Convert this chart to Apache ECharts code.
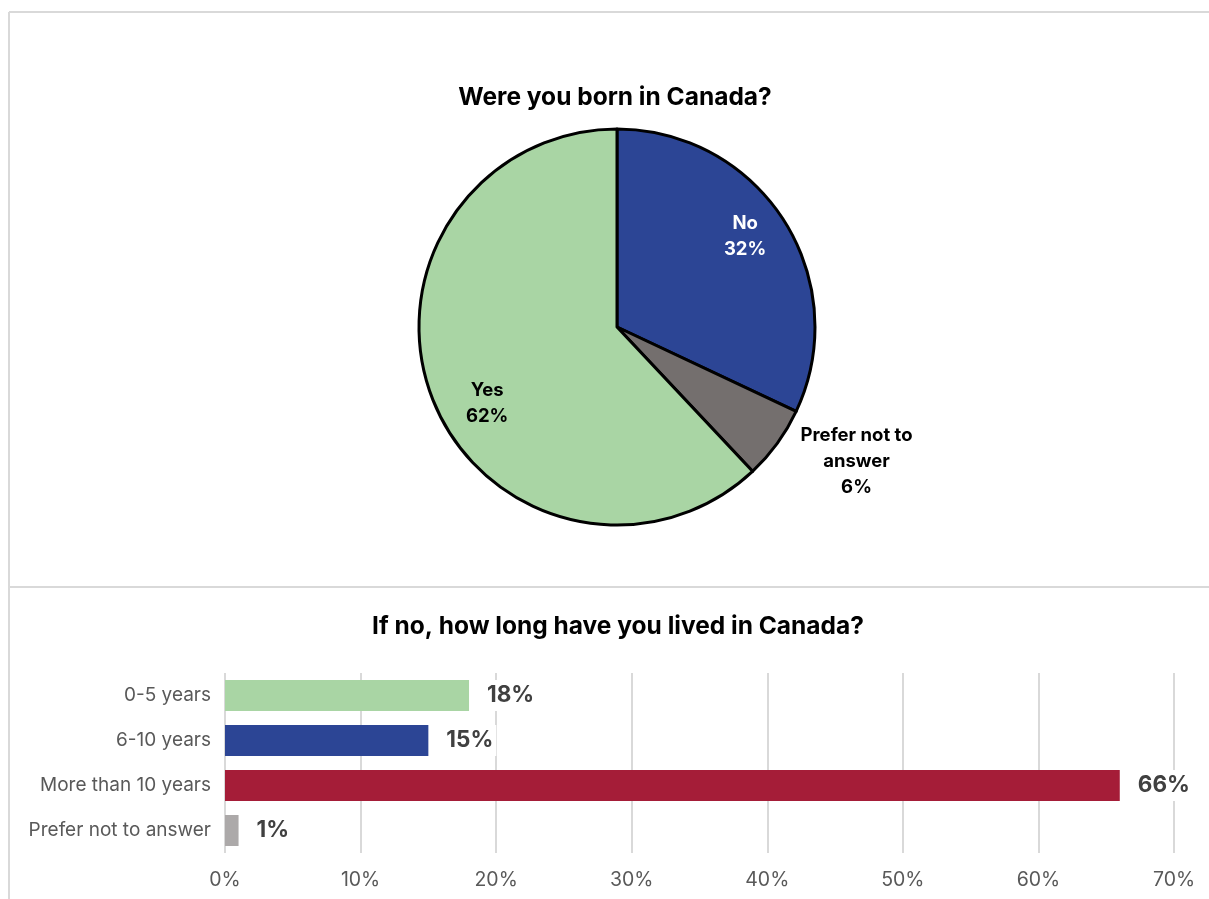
<!DOCTYPE html>
<html>
<head>
<meta charset="utf-8">
<script src="https://cdn.jsdelivr.net/npm/echarts@6/dist/echarts.min.js"></script>
<style>
  html, body { margin: 0; padding: 0; background: #fff; }
  #chart { width: 1209px; height: 899px; }
</style>
</head>
<body>
<div id="chart"></div>
<script>
// Pie: "Were you born in Canada?"
const pieCategories = ['No', 'Prefer not to answer', 'Yes'];
const pieLabels = ['No', 'Prefer not to\nanswer', 'Yes'];
const pieValues = [32, 6, 62];
const pieColors = ['#2c4595', '#746f6e', '#a9d5a4'];

// Bars: "If no, how long have you lived in Canada?"
const barCategories = ['0-5 years', '6-10 years', 'More than 10 years', 'Prefer not to answer'];
const barValues = [18, 15, 66, 1];
const barColors = ['#a9d5a4', '#2c4595', '#a51d38', '#aca9a9'];
const axisTicks = [0, 10, 20, 30, 40, 50, 60, 70];

// label offsets from the default inside position of each slice
const pieLabelShift = [[42, -36], [157, 74], [-35, 39]];
const pieLabelColors = ['#ffffff', '#000000', '#000000'];

const FONT = 'Inter, "Noto Sans", sans-serif';
const chart = echarts.init(document.getElementById('chart'), null, { renderer: 'canvas' });

chart.setOption({
  backgroundColor: '#ffffff',
  animation: false,
  graphic: [
    { type: 'line', shape: { x1: 9, y1: 12, x2: 1209, y2: 12 }, style: { stroke: '#d9d9d9', lineWidth: 2 } },
    { type: 'line', shape: { x1: 9, y1: 12, x2: 9, y2: 899 }, style: { stroke: '#d9d9d9', lineWidth: 2 } },
    { type: 'line', shape: { x1: 9, y1: 587, x2: 1209, y2: 587 }, style: { stroke: '#d9d9d9', lineWidth: 2 } }
  ],
  title: [
    {
      text: 'Were you born in Canada?',
      left: 610, top: 80, textAlign: 'center',
      textStyle: { fontFamily: FONT, fontWeight: 'bold', fontSize: 24.5, lineHeight: 26, color: '#000' }
    },
    {
      text: 'If no, how long have you lived in Canada?',
      left: 613, top: 609, textAlign: 'center',
      textStyle: { fontFamily: FONT, fontWeight: 'bold', fontSize: 24.5, lineHeight: 26, color: '#000' }
    }
  ],
  grid: { left: 225, right: 35, top: 673, height: 180, containLabel: false },
  xAxis: {
    type: 'value', min: axisTicks[0], max: axisTicks[axisTicks.length - 1], interval: 10,
    axisLine: { show: false }, axisTick: { show: false },
    splitLine: { show: true, lineStyle: { color: '#d9d9d9', width: 2 } },
    axisLabel: { formatter: '{value}%', color: '#595959', fontFamily: FONT, fontSize: 19.5, margin: 17 }
  },
  yAxis: {
    type: 'category', data: barCategories, inverse: true,
    axisLine: { show: false }, axisTick: { show: false },
    axisLabel: { color: '#595959', fontFamily: FONT, fontSize: 19, margin: 14 }
  },
  series: [
    {
      type: 'pie',
      center: [617, 327], radius: 198,
      startAngle: 90, clockwise: true,
      data: pieValues.map((v, i) => ({
        name: pieCategories[i], value: v,
        itemStyle: { color: pieColors[i] },
        label: { color: pieLabelColors[i] }
      })),
      itemStyle: { borderColor: '#000', borderWidth: 3 },
      label: {
        show: true, position: 'inside',
        formatter: (p) => pieLabels[p.dataIndex] + '\n' + p.value + '%',
        fontFamily: FONT, fontWeight: 'bold', fontSize: 18.5, lineHeight: 26, align: 'center'
      },
      labelLine: { show: false },
      labelLayout: (p) => ({ dx: pieLabelShift[p.dataIndex][0], dy: pieLabelShift[p.dataIndex][1] }),
      emphasis: { disabled: true }
    },
    {
      type: 'bar',
      barWidth: 31,
      data: barValues.map((v, i) => ({ value: v, itemStyle: { color: barColors[i] } })),
      label: {
        show: true, position: 'right', distance: 15,
        formatter: '{c}%', color: '#404040', fontFamily: FONT, fontWeight: 'bold', fontSize: 22.5,
        backgroundColor: '#ffffff', padding: [4, 3]
      },
      emphasis: { disabled: true }
    }
  ]
});
</script>
</body>
</html>
